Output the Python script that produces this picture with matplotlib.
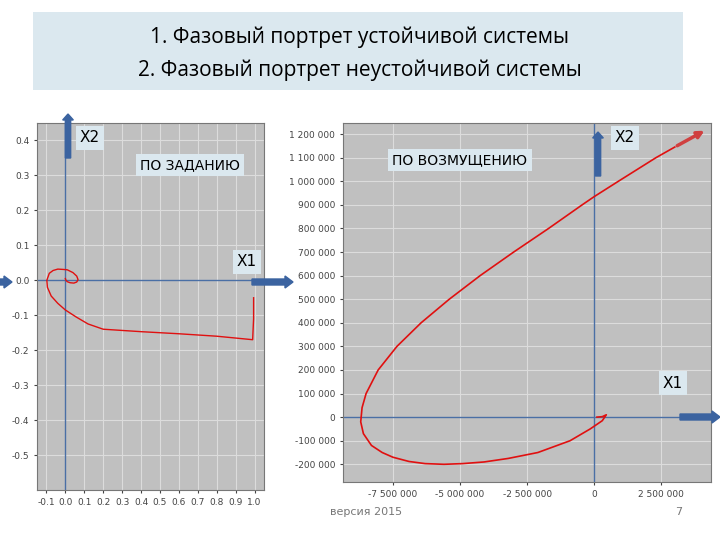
import matplotlib
matplotlib.use("Agg")
import matplotlib.pyplot as plt
from matplotlib.patches import Rectangle, FancyArrow

# left: stable system
l_x = [0.995, 0.995, 0.99, 0.8, 0.6, 0.4, 0.2, 0.12, 0.057, 0.0, -0.04, -0.075, -0.095, -0.098, -0.085, -0.065, -0.04, -0.01, 0.01, 0.04, 0.06, 0.067, 0.06, 0.045, 0.025, 0.01, 0.003, 0.0]
l_y = [-0.05, -0.11, -0.17, -0.16, -0.153, -0.147, -0.14, -0.125, -0.105, -0.085, -0.066, -0.045, -0.02, 0.0, 0.02, 0.028, 0.032, 0.031, 0.03, 0.022, 0.012, 0.002, -0.005, -0.008, -0.007, -0.004, 0.0, 0.005]
l_xt = [-0.1, 0.0, 0.1, 0.2, 0.3, 0.4, 0.5, 0.6, 0.7, 0.8, 0.9, 1.0]
l_yt = [0.4, 0.3, 0.2, 0.1, 0.0, -0.1, -0.2, -0.3, -0.4, -0.5]

# right: unstable system
r_x = [0.1e6, 0.3e6, 0.45e6, 0.3e6, -0.15e6, -0.9e6, -2.1e6, -3.2e6, -4.1e6, -4.9e6, -5.6e6, -6.3e6, -6.9e6, -7.5e6, -7.9e6, -8.3e6, -8.6e6, -8.7e6, -8.65e6, -8.5e6, -8.05e6, -7.35e6, -6.45e6, -5.4e6, -4.25e6, -3.0e6, -1.7e6, -0.45e6, 0.0, 0.9e6, 1.6e6, 2.3e6, 3.0e6]
r_y = [0.0, 2e3, 10e3, -15e3, -50e3, -100e3, -150e3, -175e3, -190e3, -197e3, -200e3, -197e3, -188e3, -170e3, -150e3, -120e3, -70e3, -20e3, 40e3, 100e3, 200e3, 300e3, 400e3, 500e3, 600e3, 700e3, 800e3, 900e3, 935e3, 1000e3, 1050e3, 1100e3, 1145e3]
r_xt = [-7.5e6, -5e6, -2.5e6, 0, 2.5e6]
r_yt = list(range(-200000, 1200001, 100000))

def fmt(v):
    s = f"{abs(int(v)):,}".replace(",", " ")
    return ("-" if v < 0 else "") + s

plt.rcParams['font.family'] = ['DejaVu Sans']
fig = plt.figure(figsize=(7.2, 5.4), dpi=100)
W, H = 720, 540
def fx(px): return px / W
def fy(py): return 1 - py / H

fig.patches.append(Rectangle((fx(33), fy(90)), fx(650), (90 - 12) / H, transform=fig.transFigure,
                             facecolor='#dbe8ef', edgecolor='none', zorder=0))
fig.text(0.5, fy(37), "1. Фазовый портрет устойчивой системы", ha='center', va='center', fontsize=15, family='Open Sans')
fig.text(0.5, fy(70), "2. Фазовый портрет неустойчивой системы", ha='center', va='center', fontsize=15, family='Open Sans')

def style(ax):
    ax.set_facecolor('#c0c0c0')
    ax.grid(True, color='#dcdcdc', lw=0.8)
    for s in ax.spines.values():
        s.set_color('#777777')
    ax.tick_params(labelsize=6.5, colors='#444444', length=2)

axL = fig.add_axes([fx(37), fy(490), fx(264 - 37), (490 - 123) / H])
style(axL)
axL.set_xlim(-0.15, 1.05)
axL.set_ylim(-0.6, 0.45)
axL.set_xticks(l_xt)
axL.set_xticklabels([f"{v:.1f}" for v in l_xt])
axL.set_yticks(l_yt)
axL.set_yticklabels([f"{v:.1f}" for v in l_yt])
axL.axhline(0, color='#4a6fa5', lw=1)
axL.axvline(0, color='#4a6fa5', lw=1)
axL.plot(l_x, l_y, color='#e01010', lw=1)

axR = fig.add_axes([fx(343), fy(482), fx(711 - 343), (482 - 123) / H])
style(axR)
axR.set_xlim(-9.36e6, 4.35e6)
axR.set_ylim(-275e3, 1247e3)
axR.set_xticks(r_xt)
axR.set_xticklabels([fmt(v) for v in r_xt])
axR.set_yticks(r_yt)
axR.set_yticklabels([fmt(v) for v in r_yt])
axR.axhline(0, color='#4a6fa5', lw=1)
axR.axvline(0, color='#4a6fa5', lw=1)
axR.plot(r_x, r_y, color='#e01010', lw=1.2)
axR.annotate("", xy=(4.2e6, 1.22e6), xytext=(r_x[-1], r_y[-1]),
             arrowprops=dict(arrowstyle='-|>', color='#d04040', lw=2.5))

def label(px, py, txt, fs=11):
    fig.text(fx(px), fy(py), txt, ha='center', va='center', fontsize=fs,
             bbox=dict(facecolor='#dbe8ef', edgecolor='none', pad=3))

label(90, 138, "X2")
label(190, 165, "ПО ЗАДАНИЮ", 10)
label(247, 262, "X1")
label(625, 138, "X2")
label(460, 160, "ПО ВОЗМУЩЕНИЮ", 10)
label(673, 383, "X1")

def arrow(x0, y0, x1, y1, w=5):
    fig.patches.append(FancyArrow(fx(x0), fy(y0), fx(x1 - x0), (y0 - y1) / H, width=w / H,
                                  head_width=2 * w / H, head_length=8 / W, length_includes_head=True,
                                  transform=fig.transFigure, color='#3b63a0', zorder=5))
arrow(68, 158, 68, 114, 4)
arrow(252, 282, 293, 282, 6)
arrow(598, 176, 598, 132, 4)
arrow(680, 417, 720, 417, 6)
arrow(0, 282, 12, 282, 6)

fig.text(fx(330), fy(515), "версия 2015", fontsize=8, color='#777777')
fig.text(fx(675), fy(515), "7", fontsize=8, color='#777777')
fig.savefig("out.png")
